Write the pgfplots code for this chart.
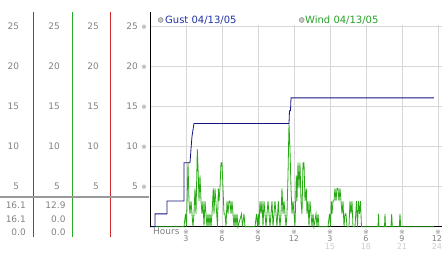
\documentclass[border=0pt]{standalone}
\usepackage{pgfplots}
\pgfplotsset{compat=1.18}
\usepackage{fontspec}
\setmainfont{DejaVu Sans}
\definecolor{gustc}{RGB}{20,20,130}
\definecolor{windc}{RGB}{40,170,20}
\definecolor{gustt}{RGB}{30,50,160}
\definecolor{windt}{RGB}{40,160,40}
\definecolor{lab}{RGB}{130,130,130}
\definecolor{lab2}{RGB}{205,205,205}
\definecolor{gridc}{RGB}{215,215,215}
\definecolor{pblue}{RGB}{40,80,220}
\definecolor{pgreen}{RGB}{40,170,40}
\definecolor{pred}{RGB}{210,40,40}
\newcommand\tk{{\fontsize{6.5}{6.5}\selectfont ※}}
% x: time in 5-minute steps from midnight (12 steps = 1 hour); y: speed
\pgfplotstableread{
t v
0 0
5 0
5 1.6
17 1.6
17 3.2
34 3.2
34 8.0
40 8.0
41 9.7
42 11.3
44 12.9
139 12.9
139.5 14.5
140.5 14.5
141 16.1
284 16.1
}\gust
\pgfplotstableread{
t v
5 0
34 0
35.5 1.6
36.5 0
38 8.0
39 3.2
40 1.6
41 3.2
42 1.6
43 0
44 1.6
45 4.8
46 1.6
47.3 9.7
48.3 6.4
49 3.2
50 6.4
51 3.2
52 1.6
53 3.2
54 0
55 3.2
56 1.6
57 0
58 1.6
59 0
60 1.6
61 0
62 1.6
63.3 4.8
64 1.6
65 4.8
66.7 1.6
67.5 0
68.3 4.8
69 3.2
70 4.8
71 8.0
72 8.0
73 4.8
74 1.6
75 1.6
76 0
77 3.2
78 1.6
79 3.2
80 3.2
81 1.6
82 3.2
83 1.6
84 0
85 1.6
86 0
87 1.6
88 0
91.5 1.6
92.5 0
94 1.6
95 0
105 0
106.5 1.6
107.5 0
108.3 1.6
109 0
110 3.2
111 1.6
112 3.2
113 0
114 3.2
115 1.6
116 0
117 1.6
118 3.2
119 1.6
120 0
121 1.6
122 3.2
123 0
124 1.6
125 3.2
126 1.6
127 0
128.3 3.2
129 1.6
130 0
131 1.6
132 4.8
133 1.6
134 3.2
135 1.6
136 0
137 1.6
138 6.4
139 12.9
140 9.7
141 4.8
142 1.6
143 3.2
144 1.6
145 0
146.3 6.4
147 3.2
148 8.0
149 4.8
150 8.0
151 3.2
152 1.6
153 8.0
154 8.0
155 3.2
156.3 4.8
157 1.6
158 3.2
159 0
160 3.2
161 1.6
162 0
163 1.6
164 0
166 1.6
167 0
168 1.6
169 0
178 0
179.5 1.6
180.5 0
181.3 3.2
182 1.6
183 3.2
184 3.2
185 4.8
186 3.2
187 4.8
188 4.8
189 3.2
190 4.8
191 3.2
192 1.6
193 3.2
194 0
195 1.6
196 1.6
197 0
199 0
200 3.2
201 1.6
202 3.2
203 0
205 0
206.5 3.2
207.5 0
208.5 3.2
209.5 1.6
210.5 3.2
211.5 0
228 0
228.5 1.6
229 0
234.5 0
235 1.6
235.5 0
241 0
241.7 1.6
242.3 0
249.3 0
250 1.6
250.7 0
284 0
}\wind
\begin{document}
\begin{tikzpicture}
\begin{axis}[
 anchor=origin, at={(0pt,0pt)},
 x=1pt, y=8pt,
 xmin=0, xmax=292, ymin=0, ymax=25.2,
 axis x line=bottom, axis y line=left,
 axis line style={black, line width=0.8pt, -},
 xtick={36,72,...,288}, ytick={5,10,...,25},
 xticklabels={}, yticklabels={},
 major tick length=0pt,
 grid=major, major grid style={gridc, line width=0.7pt},
 clip=false,
 font=\fontsize{9}{10}\selectfont,
]
\addplot[windc, line width=0.8pt] table[x=t,y=v] {\wind};
\addplot[gustc, line width=0.8pt] table[x=t,y=v] {\gust};
% axis line extension
\draw[black, line width=0.8pt] (axis cs:0,0) -- (axis cs:0,26.84);
% left panel
\draw[pblue, line width=1pt] (axis cs:-116.7,-1.29) -- (axis cs:-116.7,26.84);
\draw[pgreen, line width=1pt] (axis cs:-77.7,-1.29) -- (axis cs:-77.7,26.84);
\draw[pred, line width=1pt] (axis cs:-39,-1.29) -- (axis cs:-39,26.84);
\draw[gray!80, line width=2pt] (axis cs:-150,3.75) -- (axis cs:-0.5,3.75);
\pgfplotsinvokeforeach{5,10,15,20,25}{
 \node[anchor=east, lab, inner sep=0pt] at (axis cs:-130.7,#1) {#1};
 \node[anchor=east, lab, inner sep=0pt] at (axis cs:-90,#1) {#1};
 \node[anchor=east, lab, inner sep=0pt] at (axis cs:-51,#1) {#1};
 \node[anchor=east, lab, inner sep=0pt] at (axis cs:-12,#1) {#1};
 \node[lab, inner sep=0pt] at (axis cs:-6,#1) {\tk};
}
\node[anchor=east, lab, inner sep=0pt] at (axis cs:-124,2.65) {16.1};
\node[anchor=east, lab, inner sep=0pt] at (axis cs:-124,0.875) {16.1};
\node[anchor=east, lab, inner sep=0pt] at (axis cs:-124,-0.66) {0.0};
\node[anchor=east, lab, inner sep=0pt] at (axis cs:-84.3,2.65) {12.9};
\node[anchor=east, lab, inner sep=0pt] at (axis cs:-84.3,0.875) {0.0};
\node[anchor=east, lab, inner sep=0pt] at (axis cs:-84.3,-0.66) {0.0};
% x labels
\pgfplotsinvokeforeach{36,72,108,144,180,216,252,288}{
 \node[lab, inner sep=0pt] at (axis cs:#1,-0.66) {\tk};
}
\begin{scope}[every node/.style={inner sep=0pt, font=\fontsize{8}{9}\selectfont}]
\node[lab] at (axis cs:36,-1.45) {3};
\node[lab] at (axis cs:72,-1.45) {6};
\node[lab] at (axis cs:108,-1.45) {9};
\node[lab] at (axis cs:144,-1.45) {12};
\node[lab] at (axis cs:180,-1.45) {3};
\node[lab] at (axis cs:216,-1.45) {6};
\node[lab] at (axis cs:252,-1.45) {9};
\node[lab] at (axis cs:287,-1.45) {12};
\node[lab2] at (axis cs:180,-2.5) {15};
\node[lab2] at (axis cs:216,-2.5) {18};
\node[lab2] at (axis cs:252,-2.5) {21};
\node[lab2] at (axis cs:287,-2.5) {24};
\end{scope}
\node[lab, anchor=west, inner sep=0pt] at (axis cs:3,-0.6) {Hours};
% legend
\node[circle, fill=gray!45, draw=gray, line width=0.4pt, inner sep=0pt, minimum size=5pt] at (axis cs:10.7,25.84) {};
\node[anchor=west, gustt, font=\fontsize{10}{12}\selectfont, inner sep=0pt] at (axis cs:15,25.84) {Gust 04/13/05};
\node[circle, fill=gray!45, draw=gray, line width=0.4pt, inner sep=0pt, minimum size=5pt] at (axis cs:151.7,25.84) {};
\node[anchor=west, windt, font=\fontsize{10}{12}\selectfont, inner sep=0pt] at (axis cs:155,25.84) {Wind 04/13/05};
\end{axis}
\pgfresetboundingbox
\path[use as bounding box] (-150pt,-26.3pt) rectangle (292pt,226.7pt);
\end{tikzpicture}
\end{document}
